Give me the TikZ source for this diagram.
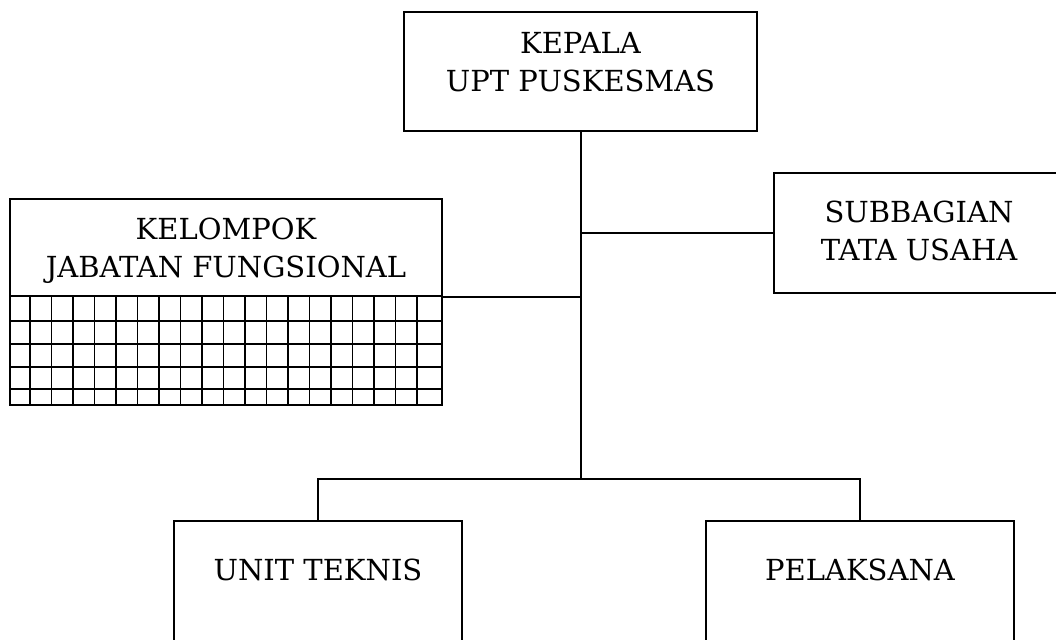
\documentclass[tikz,border=0pt]{standalone}
\usepackage{fontspec}
\setmainfont{DejaVu Serif}
\begin{document}
\begin{tikzpicture}[x=1pt,y=-1pt,
  orgbox/.style={draw=black,line width=1.5pt,rectangle,inner sep=0pt},
  lbl/.style={align=center,inner sep=0pt,font=\fontsize{29}{38}\selectfont},
  conn/.style={draw=black,line width=1.5pt},
  gridline/.style={draw=black,line width=1.6pt}]
\useasboundingbox (0,0) rectangle (1056,639);
\clip (0,0) rectangle (1056,639);
% boxes
\node[orgbox,minimum width=353pt,minimum height=119pt] (kepala) at (580.5,71.5) {};
\node[lbl] (kepalaT) at (580.5,62) {KEPALA\\UPT PUSKESMAS};
\node[orgbox,minimum width=290pt,minimum height=120pt] (sub) at (919,233) {};
\node[lbl] (subT) at (919,231) {SUBBAGIAN\\TATA USAHA};
\node[orgbox,minimum width=432pt,minimum height=97pt] (kel) at (226,247.5) {};
\node[lbl] (kelT) at (226,251) {KELOMPOK\\JABATAN FUNGSIONAL};
\node[orgbox,minimum width=432pt,minimum height=109pt] (grid) at (226,350.5) {};
\node[orgbox,minimum width=288pt,minimum height=160pt] (unit) at (318,601) {};
\node[lbl] (unitT) at (318,570) {UNIT TEKNIS};
\node[orgbox,minimum width=308pt,minimum height=160pt] (pel) at (860,601) {};
\node[lbl] (pelT) at (860,570) {PELAKSANA};
% grid pattern
\foreach \i in {0,...,18} {
  \draw[gridline] ({30+21.5*\i},296) -- ({30+21.5*\i},405);
}
\foreach \y in {321,344,367,389} {
  \draw[gridline] (10,\y) -- (442,\y);
}
% connectors
\coordinate (jt) at (581,479);
\coordinate (jsub) at (jt |- sub.west);
\coordinate (jkel) at (jt |- kel.south east);
\draw[conn] (kepala.south -| jt) -- (jt);
\draw[conn] (jsub) -- (sub.west);
\draw[conn] (kel.south east) -- (jkel);
\draw[conn] (unit.north) |- (jt) -| (pel.north);
\end{tikzpicture}
\end{document}
